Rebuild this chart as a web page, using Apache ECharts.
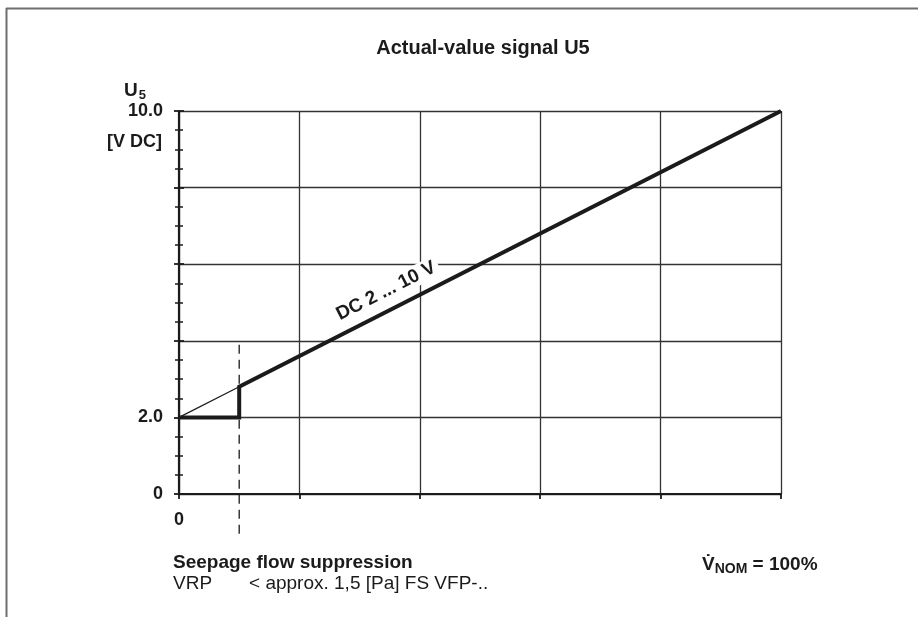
<!DOCTYPE html>
<html>
<head>
<meta charset="utf-8">
<script src="https://cdn.jsdelivr.net/npm/echarts@6/dist/echarts.min.js"></script>
<style>
  html, body { margin: 0; padding: 0; background: #fff; }
  #chart { width: 918px; height: 617px; }
</style>
</head>
<body>
<div id="chart"></div>
<script>
// Sollwert-/Istwertsignal U5: Volumenstrom in % von V_NOM, Spannung in V DC
const flowPercent = [0, 10, 10, 100]
const signalVolt = [2.0, 2.0, 2.8, 10.0]
// duenne Linie unterhalb der Leckstromunterdrueckung
const thinFlow = [0, 10]
const thinVolt = [2.0, 2.8]
// gestrichelte Markierung bei 10 %
const dashFlow = [10, 10]
const dashVolt = [3.9, -1.15]
const yTickLabels = { 0: '0', 2: '2.0', 10: '10.0' }
const xTickLabels = { 0: '0' }
const lineLabel = 'DC 2 ... 10 V'
const labelAt = [34.4, 5.3]

const font = '"Liberation Sans", Arial, sans-serif'
const ink = '#1c1a1a'

const zip = (a, b) => a.map((v, i) => [v, b[i]])

const chart = echarts.init(document.getElementById('chart'))

const option = {
  animation: false,
  backgroundColor: '#fff',
  grid: { left: 179, right: 137, top: 111, bottom: 123 },
  xAxis: {
    type: 'value',
    min: 0, max: 100, interval: 20,
    axisLine: { lineStyle: { color: ink, width: 2.2 } },
    axisTick: { length: 5, lineStyle: { color: ink, width: 1.8 } },
    axisLabel: {
      margin: 17,
      color: ink, fontFamily: font, fontWeight: 'bold', fontSize: 18,
      formatter: v => xTickLabels[v] || ''
    },
    splitLine: { show: true, lineStyle: { color: '#333', width: 1.3 } }
  },
  yAxis: [
    {
      type: 'value',
      min: 0, max: 10, interval: 2,
      axisLine: { show: true, lineStyle: { color: ink, width: 2.2 } },
      axisTick: { length: 5, lineStyle: { color: ink, width: 1.8 } },
      minorTick: { show: true, splitNumber: 4, length: 4, lineStyle: { color: ink, width: 1.5 } },
      axisLabel: {
        margin: 16,
        color: ink, fontFamily: font, fontWeight: 'bold', fontSize: 18,
        formatter: v => yTickLabels[v] || ''
      },
      splitLine: { show: true, lineStyle: { color: '#333', width: 1.3 } }
    },
    {
      // nur fuer die Ticks nach innen
      type: 'value',
      position: 'left',
      min: 0, max: 10, interval: 2,
      axisLine: { show: false },
      axisTick: { show: true, inside: true, length: 5, lineStyle: { color: ink, width: 1.8 } },
      minorTick: { show: true, splitNumber: 4, length: 4, lineStyle: { color: ink, width: 1.5 } },
      axisLabel: { show: false },
      splitLine: { show: false }
    }
  ],
  series: [
    {
      type: 'line',
      data: zip(thinFlow, thinVolt),
      symbol: 'none',
      lineStyle: { color: ink, width: 1.2 },
      z: 3
    },
    {
      type: 'line',
      data: zip(flowPercent, signalVolt),
      symbol: 'none',
      lineStyle: { color: ink, width: 4, join: 'miter' },
      z: 4
    },
    {
      type: 'line',
      data: zip(dashFlow, dashVolt),
      symbol: 'none',
      clip: false,
      lineStyle: { color: ink, width: 1.3, type: [9, 6] },
      z: 2
    },
    {
      type: 'scatter',
      data: [labelAt],
      symbolSize: 0,
      silent: true,
      itemStyle: { opacity: 1, color: ink },
      label: {
        show: true,
        position: 'inside',
        formatter: lineLabel,
        rotate: 27,
        color: ink, fontFamily: font, fontWeight: 'bold', fontSize: 19,
        backgroundColor: '#fff',
        padding: [1, 4]
      },
      z: 5
    }
  ],
  graphic: [
    // Rahmen oben und links
    { type: 'line', shape: { x1: 6, y1: 8.5, x2: 918, y2: 8.5 }, style: { stroke: '#6e6e6e', lineWidth: 2 } },
    { type: 'line', shape: { x1: 6.5, y1: 8, x2: 6.5, y2: 617 }, style: { stroke: '#6e6e6e', lineWidth: 2 } },
    {
      type: 'text', x: 483, y: 48,
      style: { text: 'Actual-value signal U5', fill: ink, font: 'bold 20px ' + font, textAlign: 'center', textVerticalAlign: 'middle' }
    },
    {
      type: 'text', x: 124, y: 79,
      style: {
        text: '{u|U}{s|5}',
        rich: {
          u: { fill: ink, fontFamily: font, fontWeight: 'bold', fontSize: 19 },
          s: { fill: ink, fontFamily: font, fontWeight: 'bold', fontSize: 13, padding: [10, 0, 0, 1] }
        }
      }
    },
    {
      type: 'text', x: 162, y: 142,
      style: { text: '[V DC]', fill: ink, font: 'bold 18px ' + font, textAlign: 'right', textVerticalAlign: 'middle' }
    },
    {
      type: 'text', x: 173, y: 563,
      style: { text: 'Seepage flow suppression', fill: ink, font: 'bold 19px ' + font, textVerticalAlign: 'middle' }
    },
    {
      type: 'text', x: 173, y: 584,
      style: { text: 'VRP       < approx. 1,5 [Pa] FS VFP-..', fill: ink, font: '19px ' + font, textVerticalAlign: 'middle' }
    },
    {
      type: 'text', x: 702, y: 554,
      style: {
        text: '{v|V\u0307}{s|NOM}{v| = 100%}',
        rich: {
          v: { fill: ink, fontFamily: font, fontWeight: 'bold', fontSize: 19 },
          s: { fill: ink, fontFamily: font, fontWeight: 'bold', fontSize: 14, padding: [8, 0, 0, 0] }
        }
      }
    }
  ]
}

chart.setOption(option)
</script>
</body>
</html>
